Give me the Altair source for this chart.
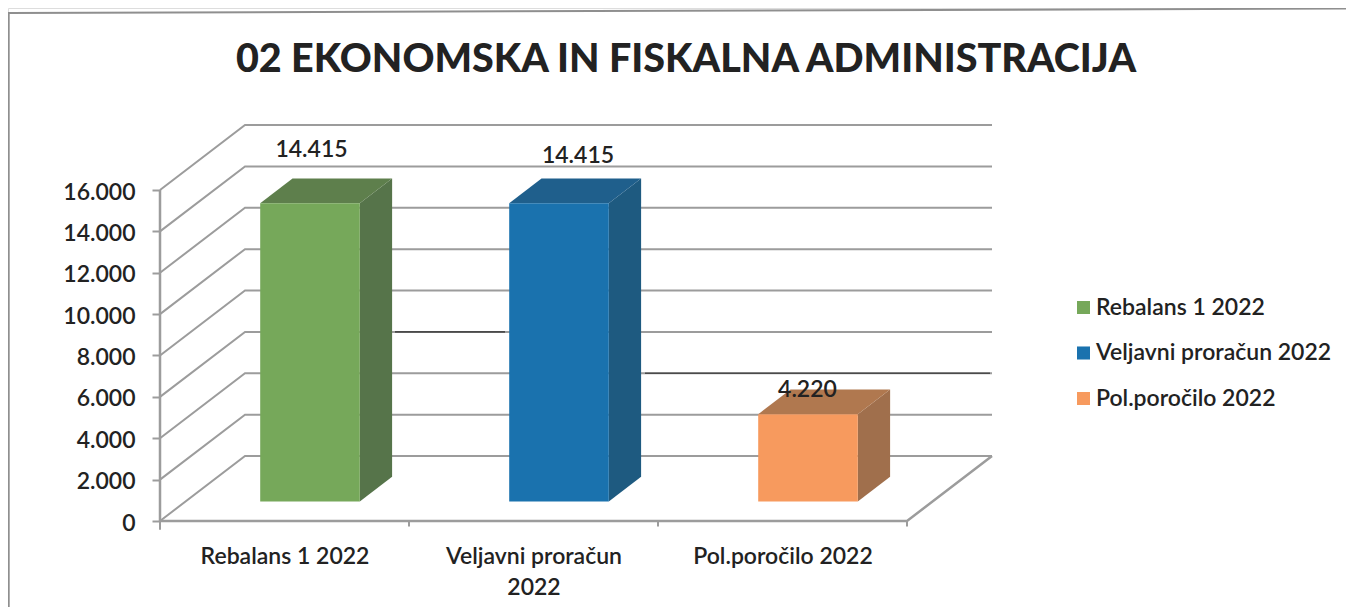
import altair as alt
import pandas as pd

# ---- chart values -------------------------------------------------
categories = ["Rebalans 1 2022", "Veljavni proračun 2022", "Pol.poročilo 2022"]
axis_labels = [["Rebalans 1 2022"], ["Veljavni proračun", "2022"], ["Pol.poročilo 2022"]]
values = [14415, 14415, 4220]
y_ticks = [0, 2000, 4000, 6000, 8000, 10000, 12000, 14000, 16000]
x_ticks = [0, 1, 2, 3]
x_label_positions = [0.5, 1.5, 2.5]

front_colors = ["#76A85A", "#1A72AE", "#F79A5E"]
side_colors = ["#56744A", "#1E5A80", "#A06F4C"]
top_colors = ["#5E7F4C", "#1F5F8C", "#B0784F"]

# ---- layout of the projection --------------------------------------
W, H = 1338, 599
PX_X, PX_Y = 249.0, 331.0 / 16000      # px per x unit, px per value
X0, Y0 = 160 - 8, 521 - 8              # screen position of the origin in the plot
DX, DY = 85 / PX_X, 65 / PX_Y          # full floor depth in data units
BAR_W, D_FRONT, D_BACK = 0.4, 0.30, 0.68

FONT = "Lato"
TEXT = "#222222"
LINE = "#9c9c9c"
FS = 23
FW = 600

x_scale = alt.Scale(domain=[-X0 / PX_X, (W - X0) / PX_X], nice=False, zero=False)
y_scale = alt.Scale(domain=[-(H - Y0) / PX_Y, Y0 / PX_Y], nice=False, zero=False)

x_label_expr = "[" + ",".join(
    "[" + ",".join(repr(s) for s in lab) + "]" for lab in axis_labels
) + "][floor(datum.value)]"

x_axis = alt.Axis(
    values=x_label_positions,
    labelExpr=x_label_expr,
    title=None,
    grid=False,
    domain=False,
    ticks=False,
    offset=-(H - Y0),
    labelPadding=24,
    labelFont=FONT,
    labelFontSize=FS,
    labelFontWeight=FW,
    labelColor=TEXT,
    labelLineHeight=31,
    labelOverlap=False,
    labelBound=False,
    labelFlush=False,
    labelBaseline="top",
)
y_axis = alt.Axis(
    values=y_ticks,
    labelExpr="replace(format(datum.value, ','), ',', '.')",
    title=None,
    grid=False,
    domain=False,
    offset=-X0,
    tickSize=8,
    tickWidth=2,
    tickColor=LINE,
    labelPadding=17,
    labelOffset=2,
    labelFont=FONT,
    labelFontSize=FS,
    labelFontWeight=FW,
    labelColor=TEXT,
    labelOverlap=False,
    labelBound=False,
    labelFlush=False,
)


def sx(px):
    return (px - 160) / PX_X


def sy(px):
    return (521 - px) / PX_Y


X = lambda f: alt.X(f, type="quantitative", scale=x_scale, axis=x_axis)
Y = lambda f: alt.Y(f, type="quantitative", scale=y_scale, axis=y_axis)

# ---- frame ----------------------------------------------------------
frame = pd.DataFrame(
    [
        {"s": "left", "o": 0, "x": sx(8.7), "y": sy(13)},
        {"s": "left", "o": 1, "x": sx(8.7), "y": sy(607)},
        {"s": "top", "o": 0, "x": sx(8), "y": sy(13)},
        {"s": "top", "o": 1, "x": sx(1346), "y": sy(8.6)},
    ]
)
frame_layer = (
    alt.Chart(frame)
    .mark_line(color="#8f8f8f", strokeWidth=2)
    .encode(x=X("x"), y=Y("y"), detail="s:N", order="o:Q")
)

# ---- walls and grid --------------------------------------------------
grid_rows = []
for v in y_ticks:
    grid_rows += [
        {"v": v, "o": 0, "x": 0, "y": v},
        {"v": v, "o": 1, "x": DX, "y": v + DY},
        {"v": v, "o": 2, "x": 3 + DX, "y": v + DY},
    ]
grid_layer = (
    alt.Chart(pd.DataFrame(grid_rows))
    .mark_line(color=LINE, strokeWidth=2)
    .encode(x=X("x"), y=Y("y"), detail="v:N", order="o:Q")
)

outline = pd.DataFrame(
    [
        {"s": "axis", "o": 0, "x": 0, "y": 0},
        {"s": "axis", "o": 1, "x": 0, "y": 16000},
        {"s": "floor", "o": 0, "x": 0, "y": 0},
        {"s": "floor", "o": 1, "x": 3, "y": 0},
        {"s": "floor", "o": 2, "x": 3 + DX, "y": DY},
    ]
)
outline_layer = (
    alt.Chart(outline)
    .mark_line(color=LINE, strokeWidth=2.5)
    .encode(x=X("x"), y=Y("y"), detail="s:N", order="o:Q")
)

# darker scanned stretches of two wall lines
dark = pd.DataFrame(
    [
        {"s": "a", "x": sx(395), "y": 6000 + DY},
        {"s": "a", "x": sx(505), "y": 6000 + DY},
        {"s": "b", "x": sx(645), "y": 4000 + DY},
        {"s": "b", "x": sx(990), "y": 4000 + DY},
    ]
)
dark_layer = (
    alt.Chart(dark)
    .mark_line(color="#4a4a4a", strokeWidth=1.6)
    .encode(x=X("x"), y=Y("y"), detail="s:N")
)

tick_rows = []
for t in x_ticks:
    tick_rows.append({"x": t, "y": 0, "y2": -420 if t == 0 else -260})
tick_layer = (
    alt.Chart(pd.DataFrame(tick_rows))
    .mark_rule(color=LINE, strokeWidth=2)
    .encode(x=X("x"), y=Y("y"), y2="y2:Q")
)

# ---- bars ------------------------------------------------------------
side_rows, top_rows, front_rows = [], [], []
for i, (c, v) in enumerate(zip(categories, values)):
    left = i + 0.5 - BAR_W / 2
    right = i + 0.5 + BAR_W / 2
    for d in (D_FRONT, D_BACK):
        side_rows.append(
            {"c": c, "x": right + d * DX, "y": v + d * DY, "y2": d * DY}
        )
        top_rows.append(
            {"c": c, "x": left + d * DX, "x2": right + d * DX, "y": v + d * DY}
        )
    front_rows.append(
        {
            "c": c,
            "x": left + D_FRONT * DX,
            "x2": right + D_FRONT * DX,
            "y": v + D_FRONT * DY,
            "y2": D_FRONT * DY,
        }
    )

side_layer = (
    alt.Chart(pd.DataFrame(side_rows))
    .mark_area(opacity=1)
    .encode(
        x=X("x"),
        y=Y("y"),
        y2="y2:Q",
        color=alt.Color(
            "c:N", scale=alt.Scale(domain=categories, range=side_colors), legend=None
        ),
    )
)
top_layer = (
    alt.Chart(pd.DataFrame(top_rows))
    .mark_area(opacity=1, orient="horizontal")
    .encode(
        x=X("x"),
        x2="x2:Q",
        y=Y("y"),
        color=alt.Color(
            "c:N", scale=alt.Scale(domain=categories, range=top_colors), legend=None
        ),
    )
)
front_layer = (
    alt.Chart(pd.DataFrame(front_rows))
    .mark_rect(opacity=1)
    .encode(
        x=X("x"),
        x2="x2:Q",
        y=Y("y"),
        y2="y2:Q",
        color=alt.Color(
            "c:N",
            scale=alt.Scale(domain=categories, range=front_colors),
            legend=alt.Legend(
                title=None,
                orient="none",
                legendX=1072 - 8,
                legendY=296 - 8,
                symbolType="square",
                symbolSize=170,
                symbolStrokeWidth=0,
                symbolOpacity=1,
                labelFont=FONT,
                labelFontSize=FS,
                labelFontWeight=FW,
                labelColor=TEXT,
                labelOffset=1,
                labelLimit=300,
                rowPadding=21.5,
                padding=0,
            ),
        ),
    )
)

# ---- value labels ----------------------------------------------------
label_shift_px = [(1.5, 53), (19, 47), (-0.5, 24)]
label_rows = []
for i, (v, (dx_px, dy_px)) in enumerate(zip(values, label_shift_px)):
    label_rows.append(
        {
            "x": i + 0.5 + D_FRONT * DX + dx_px / PX_X,
            "y": v + D_FRONT * DY + dy_px / PX_Y,
            "t": f"{v:,}".replace(",", "."),
        }
    )
text_layer = (
    alt.Chart(pd.DataFrame(label_rows))
    .mark_text(
        font=FONT,
        fontSize=FS,
        fontWeight=FW,
        color=TEXT,
        align="center",
        baseline="middle",
    )
    .encode(x=X("x"), y=Y("y"), text="t:N")
)

chart = (
    alt.layer(
        frame_layer,
        grid_layer,
        dark_layer,
        outline_layer,
        tick_layer,
        side_layer,
        top_layer,
        front_layer,
        text_layer,
    )
    .resolve_scale(color="independent")
    .properties(
        width=W,
        height=H,
        padding=0,
        autosize=alt.AutoSizeParams(type="none"),
        title=alt.TitleParams(
            "02 EKONOMSKA IN FISKALNA ADMINISTRACIJA",
            font=FONT,
            fontSize=39.5,
            fontWeight=900,
            color=TEXT,
            anchor="middle",
            dx=9,
            dy=76,
            offset=0,
        ),
    )
    .configure_view(stroke=None)
    .configure(background="white")
)

chart.save("out.html", embed_options={"renderer": "svg", "actions": False})
